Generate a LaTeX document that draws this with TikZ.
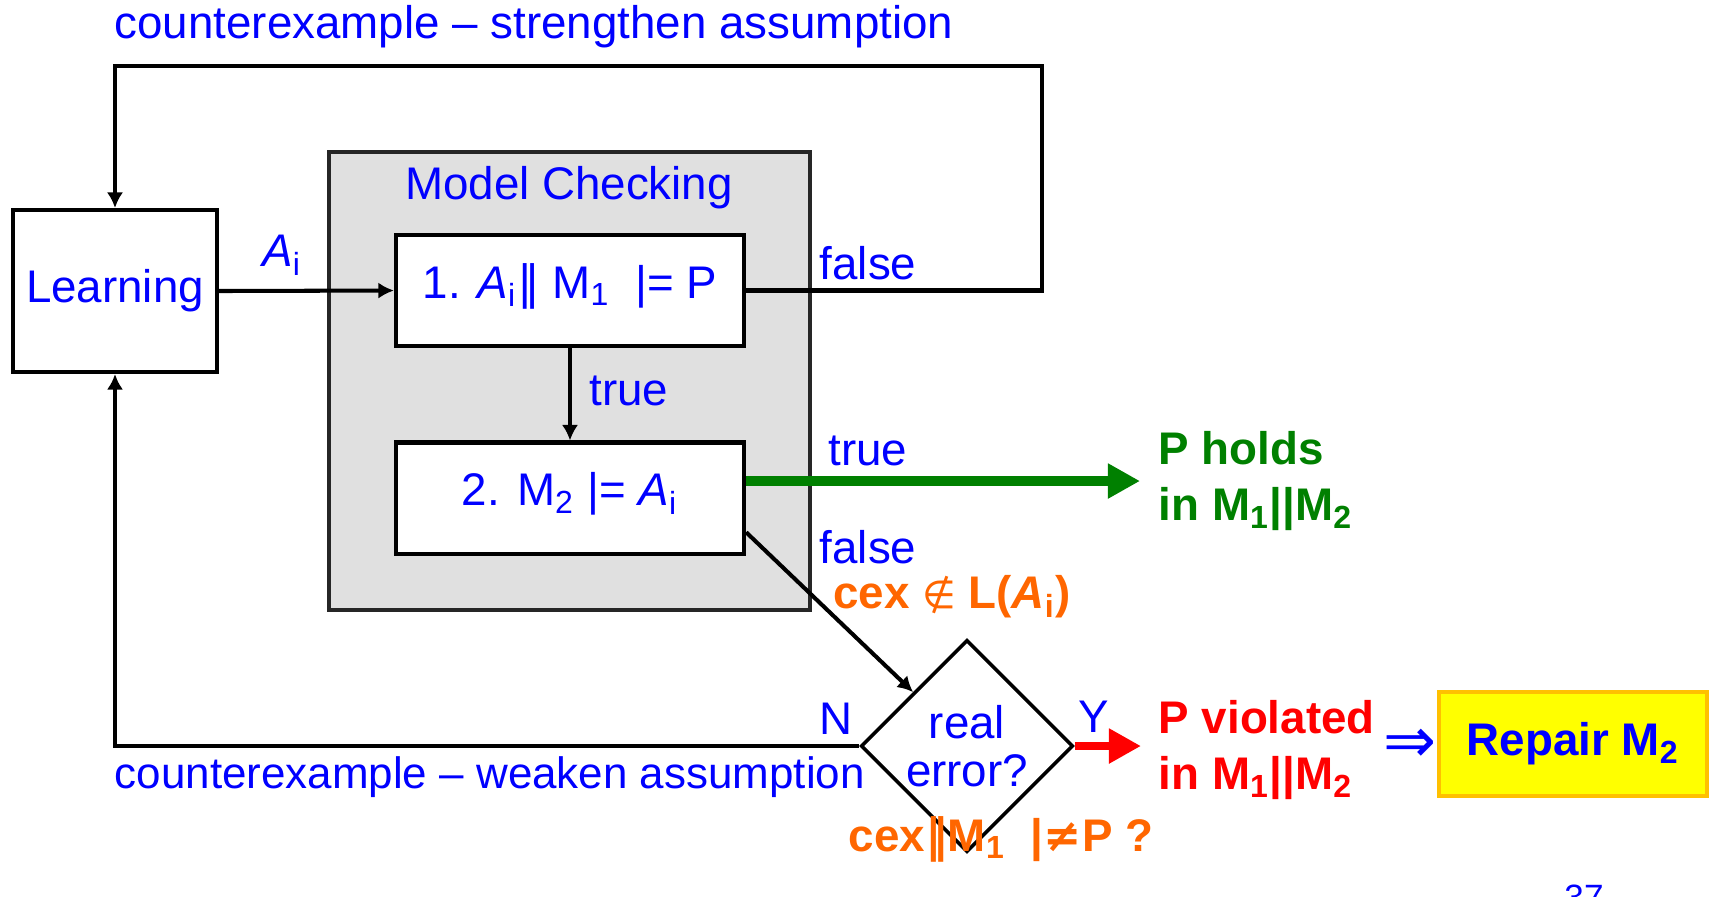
\documentclass[tikz,border=0pt]{standalone}
\usepackage{fontspec}
\setmainfont{Liberation Sans}
\newfontfamily\symfont{DejaVu Sans}
\usepackage{tikz}
\usetikzlibrary{arrows.meta,shapes.geometric}
\definecolor{cblue}{HTML}{0000FF}
\definecolor{cgreen}{HTML}{008000}
\definecolor{corange}{HTML}{FF6600}
\definecolor{cred}{HTML}{FF0000}
\definecolor{cyellow}{HTML}{FFFF00}
\definecolor{cgold}{HTML}{FFC000}
\definecolor{cgray}{HTML}{E0E0E0}
\newcommand{\Ai}{\textit{A}\textsubscript{i}}
\newcommand{\Mi}[1]{M\textsubscript{#1}}

\begin{document}
\begin{tikzpicture}[x=0.01cm, y=-0.01cm,
    txt/.style={font=\fontsize{13}{16}\selectfont, inner sep=0pt},
    lbl/.style={txt, text=cblue},
    res/.style={txt, font=\fontsize{13}{16}\selectfont\bfseries, align=left},
    blk/.style={draw, line width=1.15pt, fill=white, inner sep=0pt, text=cblue, font=\fontsize{13}{16}\selectfont},
    query/.style={blk, minimum width=3.48cm, minimum height=1.11cm, text height=0.35cm, text depth=0.2cm},
    flow/.style={line width=1.15pt, -{Latex[length=4.4pt,width=4.6pt]}},
    fat/.style={line width=2.6pt, -{Triangle[length=0.32cm,width=0.33cm]}}
]
    \useasboundingbox (0,0) rectangle (1716,896);
    % Model checking frame
    \node[draw=black!85, line width=1.15pt, fill=cgray, minimum width=4.81cm, minimum height=4.58cm] (mc) at (569.5,381) {};
    \node[lbl] (mctitle) at (569,188) {Model Checking};
    % Blocks
    \node[blk, minimum width=2.04cm, minimum height=1.62cm] (learn) at (115,291) {Learning};
    \node[query] (q1) at (570,290.5) {1. \Ai{\symfont ‖} \Mi{1}\ \ |= P};
    \node[query] (q2) at (570,498) {2. \Mi{2} |= \Ai};
    \node[draw, diamond, aspect=1, line width=1pt, minimum width=2.12cm, minimum height=2.12cm, inner sep=0pt] (err) at (967,746) {};
    \node[lbl, align=center, font=\fontsize{13}{13.5}\selectfont] (errtxt) at (err) {real\\error?};
    % Results
    \node[res, text=cgreen, anchor=west] (ph) at (1158,481) {P holds\\in \Mi{1}||\Mi{2}};
    \node[res, text=cred, anchor=west] (pv) at (1158,750) {P violated\\in \Mi{1}||\Mi{2}};
    \node[lbl, font=\fontsize{18}{18}\symfont] (impl) at (1410,746) {⇒};
    \node[draw=cgold, line width=1.3pt, fill=cyellow, minimum width=2.68cm, minimum height=1.04cm, text=cblue, font=\fontsize{13}{16}\selectfont\bfseries] (repair) at (1573,744) {Repair \Mi{2}};
    % Connectors
    \coordinate (topR) at (1042,66);
    \draw[flow] (learn.east) -- (q1.west);
    \draw[flow] (q1.south) -- (q2.north);
    \draw[flow] (q1.east) -| (topR) -| (learn.north);
    \draw[flow] (q2.-11) -- (err.north west);
    \draw[flow] (err.west) -| (learn.south);
    \draw[fat, cgreen, shorten >=0.18cm] (q2.east |- ph.west) -- (ph.west);
    \draw[fat, cred, line width=2.3pt, shorten >=0.17cm] (err.east) -- (err.east -| pv.west);
    % Labels
    \node[lbl] (ai) at (282,255) {\Ai};
    \node[lbl] (f1) at (868,263) {false};
    \node[lbl] (t1) at (629,391) {true};
    \node[lbl] (t2) at (868,451) {true};
    \node[lbl] (f2) at (868,547) {false};
    \node[res, text=corange] (notin) at (952,597) {cex {\symfont\mdseries\fontsize{11}{13}\selectfont ∉} L(\Ai)};
    \node[lbl] (no) at (836,719) {N};
    \node[lbl] (yes) at (1094,717) {Y};
    \node[res, text=corange] (cexq) at (1001,839) {cex{\symfont ‖}\Mi{1}\ \ |{\symfont ≠}P ?};
    \node[lbl, anchor=west] (strong) at (114,27) {counterexample – strengthen assumption};
    \node[lbl, anchor=west, font=\fontsize{12.5}{15}\selectfont] (weak) at (114,777) {counterexample – weaken assumption};
    \node[lbl, font=\fontsize{10}{12}\selectfont, anchor=north] (pg) at (1584,884) {37};
\end{tikzpicture}
\end{document}
